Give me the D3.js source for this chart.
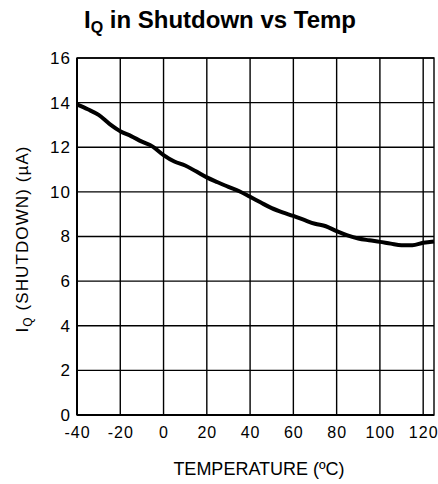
<!DOCTYPE html>
<html>
<head>
<meta charset="utf-8">
<script src="https://cdn.jsdelivr.net/npm/d3@7"></script>
<style>
  body { margin: 0; background: #fff; }
  text { font-family: "Liberation Sans", Arial, sans-serif; fill: #000; }
</style>
</head>
<body>
<div id="chart"></div>
<script>
// temperature (C) and shutdown current (uA)
const temps = [-40, -35, -30, -25, -20, -15, -10, -5, 0, 5, 10, 15, 20, 25, 30, 35, 40,
  45, 50, 55, 60, 65, 70, 75, 80, 85, 90, 95, 100, 105, 110, 115, 120, 125];
const iq = [13.92, 13.7, 13.45, 13.05, 12.72, 12.5, 12.25, 12.03, 11.65, 11.36, 11.18, 10.92,
  10.65, 10.43, 10.22, 10.03, 9.78, 9.52, 9.27, 9.08, 8.92, 8.74, 8.57, 8.46, 8.24, 8.05,
  7.91, 7.83, 7.76, 7.68, 7.61, 7.61, 7.72, 7.78];
const xTicks = [-40, -20, 0, 20, 40, 60, 80, 100, 120];
const yTicks = [0, 2, 4, 6, 8, 10, 12, 14, 16];

const W = 438, H = 484;
const margin = { top: 58, right: 4, bottom: 69, left: 77 };
const width = W - margin.left - margin.right,
      height = H - margin.top - margin.bottom;

const svg = d3.select("#chart").append("svg")
  .attr("width", W).attr("height", H);

const g = svg.append("g")
  .attr("transform", `translate(${margin.left},${margin.top})`);

const x = d3.scaleLinear().domain([-40, 125]).range([0, width]);
const y = d3.scaleLinear().domain([0, 16]).range([height, 0]);

// grid
g.append("g").selectAll("line").data(xTicks.slice(1))
  .join("line")
  .attr("x1", d => x(d)).attr("x2", d => x(d))
  .attr("y1", 0).attr("y2", height)
  .attr("stroke", "#000").attr("stroke-width", 1.4);
g.append("g").selectAll("line").data(yTicks.slice(1))
  .join("line")
  .attr("x1", 0).attr("x2", width)
  .attr("y1", d => y(d)).attr("y2", d => y(d))
  .attr("stroke", "#000").attr("stroke-width", 1.4);

// frame
g.append("rect")
  .attr("x", 0).attr("y", 0).attr("width", width).attr("height", height)
  .attr("fill", "none").attr("stroke", "#000").attr("stroke-width", 1.4);
g.append("line").attr("x1", 0).attr("x2", 0).attr("y1", 0).attr("y2", height)
  .attr("stroke", "#000").attr("stroke-width", 2);
g.append("line").attr("x1", 0).attr("x2", width).attr("y1", height).attr("y2", height)
  .attr("stroke", "#000").attr("stroke-width", 2);

// tick labels (plain hyphen for negatives, as in the original)
const xAxis = d3.axisBottom(x).tickValues(xTicks).tickSize(0).tickPadding(12)
  .tickFormat(d => String(d));
g.append("g").attr("transform", `translate(0,${height})`).call(xAxis)
  .call(a => a.select(".domain").remove())
  .selectAll("text").style("font-size", "16px").style("letter-spacing", "1px")
  .style("font-family", "'Liberation Sans', Arial, sans-serif");

const yAxis = d3.axisLeft(y).tickValues(yTicks).tickSize(0).tickPadding(6);
g.append("g").call(yAxis)
  .call(a => a.select(".domain").remove())
  .selectAll("text").style("font-size", "17px").style("letter-spacing", "1px")
  .style("font-family", "'Liberation Sans', Arial, sans-serif");

// curve
const line = d3.line()
  .x((d, i) => x(temps[i]))
  .y(d => y(d))
  .curve(d3.curveMonotoneX);
g.append("path").datum(iq)
  .attr("d", line)
  .attr("fill", "none").attr("stroke", "#000")
  .attr("stroke-width", 4).attr("stroke-linejoin", "round");

// title
const title = svg.append("text")
  .attr("x", 220).attr("y", 28)
  .attr("text-anchor", "middle")
  .style("font-size", "24px").style("font-weight", "bold");
title.append("tspan").text("I");
title.append("tspan").attr("dy", 5).style("font-size", "16px").text("Q");
title.append("tspan").attr("dy", -5).text(" in Shutdown vs Temp");

// axis titles
svg.append("text")
  .attr("x", 259).attr("y", 475)
  .attr("text-anchor", "middle")
  .style("font-size", "18px")
  .text("TEMPERATURE (ºC)");

const yl = svg.append("text")
  .attr("transform", `translate(28,239) rotate(-90)`)
  .attr("text-anchor", "middle")
  .style("font-size", "17px").style("letter-spacing", "1.1px");
yl.append("tspan").text("I");
yl.append("tspan").attr("dy", 4).style("font-size", "12px").text("Q");
yl.append("tspan").attr("dy", -4).text(" (SHUTDOWN) (µA)");
</script>
</body>
</html>
